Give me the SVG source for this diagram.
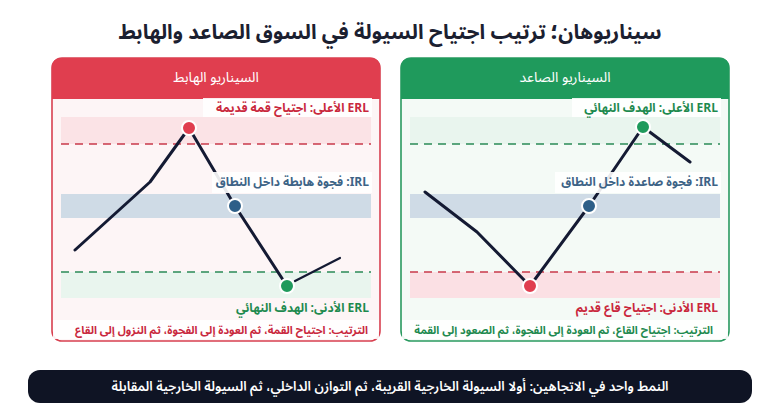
<svg xmlns="http://www.w3.org/2000/svg" width="780" height="416" viewBox="0 0 780 416">
<defs>
<style>
text{font-family:"Noto Sans Arabic","Noto Sans","DejaVu Sans",sans-serif;}
.rtl{direction:rtl;unicode-bidi:embed;text-anchor:start;}
.title{font-size:20.6px;font-weight:700;fill:#1b2030;}
.head{font-size:14px;fill:#ffffff;}
.lbl{font-size:12px;font-weight:700;}
.seq{font-size:11px;font-weight:700;}
.red{fill:#c9283d;}
.grn{fill:#1e8a4f;}
.blu{fill:#3d6386;}
.price{fill:none;stroke:#141a33;stroke-width:3;stroke-linejoin:round;stroke-linecap:round;}
.dash-r{stroke:#c93a4b;stroke-width:1.6;stroke-dasharray:8 6;}
.dash-g{stroke:#2a8a57;stroke-width:1.6;stroke-dasharray:8 6;}
.dot{stroke:#ffffff;stroke-width:2;}
.labbg{fill:#ffffff;opacity:0.9;}
</style>
</defs>
<rect width="780" height="416" fill="#ffffff"/>
<text class="title rtl" x="390" y="39" style="text-anchor:middle">سيناريوهان؛ ترتيب اجتياح السيولة في السوق الصاعد والهابط</text>

<g id="panel-bear">
<rect x="52" y="58" width="328" height="283" rx="10" fill="#fdf5f6" stroke="#d84050" stroke-width="1.6"/>
<path d="M52,99 L52,68 Q52,58 62,58 L370,58 Q380,58 380,68 L380,99 Z" fill="#e03e4f"/>
<text class="head rtl" x="216" y="82" style="text-anchor:middle">السيناريو الهابط</text>
<rect x="61" y="117" width="310" height="27" fill="#fbe3e6"/>
<rect x="61" y="194" width="310" height="24" fill="#cfdbe6"/>
<rect x="61" y="272" width="310" height="26" fill="#e9f5ee"/>
<line class="dash-r" x1="61" y1="144" x2="371" y2="144"/>
<line class="dash-g" x1="61" y1="272" x2="371" y2="272"/>
</g>

<g id="panel-bull">
<rect x="401" y="58" width="328" height="283" rx="10" fill="#f4faf6" stroke="#2a9a60" stroke-width="1.6"/>
<path d="M401,99 L401,68 Q401,58 411,58 L719,58 Q729,58 729,68 L729,99 Z" fill="#1f9a5c"/>
<text class="head rtl" x="565" y="82" style="text-anchor:middle">السيناريو الصاعد</text>
<rect x="410" y="117" width="310" height="27" fill="#e9f5ee"/>
<rect x="410" y="194" width="310" height="24" fill="#cfdbe6"/>
<rect x="410" y="272" width="310" height="26" fill="#fbe0e4"/>
<line class="dash-g" x1="410" y1="144" x2="720" y2="144"/>
<line class="dash-r" x1="410" y1="272" x2="720" y2="272"/>
</g>

<g id="connectors">
<path class="price" d="M75,250 L150,182 L189,128 L235,206 L287,286"/>
<path class="price" d="M295,281 L340,258" style="stroke-width:2.2"/>
<path class="price" d="M425,192 L477,232 L530,286 L589,206 L643,127 L690,162"/>
</g>

<g id="labels-bear">
<rect class="labbg" x="203" y="98" width="169" height="19"/>
<text class="lbl red rtl" x="369" y="112">ERL الأعلى: اجتياح قمة قديمة</text>
<rect class="labbg" x="212" y="172" width="160" height="21"/>
<text class="lbl blu rtl" x="369" y="186">IRL: فجوة هابطة داخل النطاق</text>
<text class="lbl grn rtl" x="369" y="312">ERL الأدنى: الهدف النهائي</text>
<rect class="labbg" x="53" y="320" width="326" height="19"/>
<text class="seq red rtl" x="368" y="334">الترتيب: اجتياح القمة، ثم العودة إلى الفجوة، ثم النزول إلى القاع</text>
</g>

<g id="labels-bull">
<rect class="labbg" x="572" y="98" width="149" height="19"/>
<text class="lbl grn rtl" x="718" y="112">ERL الأعلى: الهدف النهائي</text>
<rect class="labbg" x="555" y="172" width="166" height="21"/>
<text class="lbl blu rtl" x="718" y="186">IRL: فجوة صاعدة داخل النطاق</text>
<text class="lbl red rtl" x="718" y="312">ERL الأدنى: اجتياح قاع قديم</text>
<rect class="labbg" x="402" y="320" width="326" height="19"/>
<text class="seq grn rtl" x="713" y="334">الترتيب: اجتياح القاع، ثم العودة إلى الفجوة، ثم الصعود إلى القمة</text>
</g>

<g id="node-top-bear"><circle class="dot" cx="189" cy="128" r="7" fill="#e03e4f"/></g>
<g id="node-irl-bear"><circle class="dot" cx="235" cy="206" r="7" fill="#2e5f88"/></g>
<g id="node-low-bear"><circle class="dot" cx="287" cy="286" r="7" fill="#1f9a5c"/></g>
<g id="node-top-bull"><circle class="dot" cx="643" cy="127" r="7" fill="#1f9a5c"/></g>
<g id="node-irl-bull"><circle class="dot" cx="589" cy="206" r="7" fill="#2e5f88"/></g>
<g id="node-low-bull"><circle class="dot" cx="530" cy="286" r="7" fill="#e03e4f"/></g>

<g id="footer">
<rect x="28" y="370" width="724" height="33" rx="12" fill="#0f1424"/>
<text class="rtl" x="390" y="391" style="text-anchor:middle;font-size:13.2px;font-weight:600;fill:#ffffff">النمط واحد في الاتجاهين: أولا السيولة الخارجية القريبة، ثم التوازن الداخلي، ثم السيولة الخارجية المقابلة</text>
</g>
</svg>
